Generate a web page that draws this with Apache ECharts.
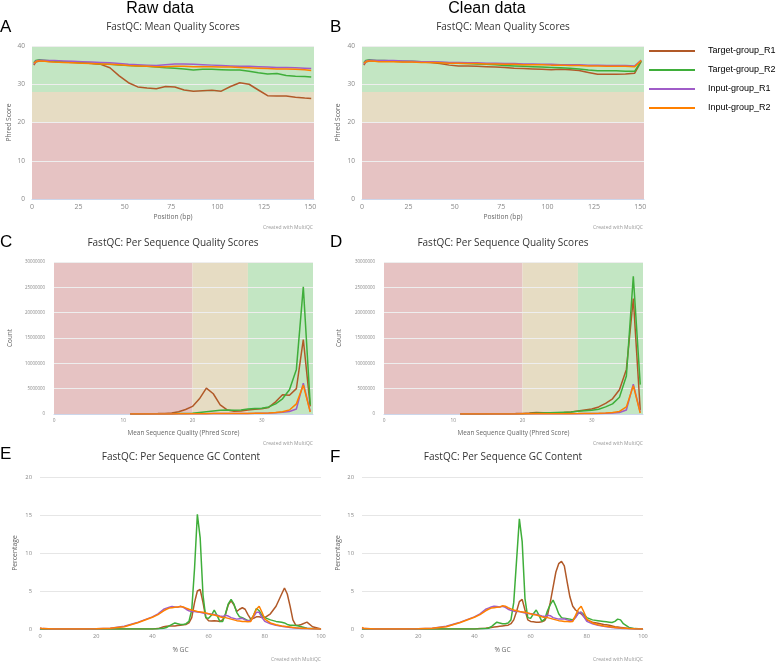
<!DOCTYPE html>
<html><head><meta charset="utf-8">
<script src="https://cdn.jsdelivr.net/npm/echarts/dist/echarts.min.js"></script>
<style>html,body{margin:0;padding:0;background:#fff}#c{width:778px;height:662px}</style>
</head><body><div id="c"></div>
<script>
// ---------- DATA ----------
const seriesNames = ['Target-group_R1','Target-group_R2','Input-group_R1','Input-group_R2'];
const panelTitles = ['FastQC: Mean Quality Scores','FastQC: Per Sequence Quality Scores','FastQC: Per Sequence GC Content'];
const columnTitles = ['Raw data','Clean data'];
const panelLetters = ['A','B','C','D','E','F'];

// Mean quality scores (position in bp)
const posX = [1,2,3,4,5,6,7,8,9,12,17,22,27,32,37,42,47,52,57,62,67,72,77,82,87,92,97,102,107,112,117,122,127,132,137,142,147,150.5];
const rawMeanT1 = [35.0,35.8,36.0,36.1,36.1,36.1,36.1,36.0,36.0,35.9,35.8,35.7,35.6,35.4,35.2,34.3,32.2,30.4,29.3,29.0,28.8,29.4,29.3,28.5,28.2,28.3,28.4,28.2,29.4,30.4,30.0,28.5,27.0,26.9,26.9,26.6,26.4,26.3];
const rawMeanT2 = [35.6,36.2,36.3,36.4,36.3,36.3,36.2,36.2,36.1,36.0,35.9,35.8,35.6,35.5,35.3,35.2,35.0,34.9,34.8,34.7,34.5,34.3,34.2,34.0,33.7,33.9,33.9,33.8,33.7,33.7,33.4,33.0,32.7,32.8,32.3,32.1,32.0,31.9];
const rawMeanI1 = [35.3,36.0,36.2,36.3,36.3,36.3,36.3,36.2,36.2,36.2,36.1,36.0,35.9,35.8,35.7,35.6,35.4,35.2,35.1,35.0,34.9,35.1,35.3,35.3,35.2,35.1,35.0,34.9,34.8,34.7,34.7,34.6,34.5,34.4,34.4,34.3,34.2,34.1];
const rawMeanI2 = [35.5,36.0,36.1,36.1,36.1,36.0,36.0,36.0,35.9,35.8,35.7,35.6,35.5,35.4,35.3,35.2,35.1,34.9,34.8,34.7,34.6,34.6,34.7,34.7,34.6,34.6,34.6,34.5,34.5,34.4,34.3,34.2,34.1,34.0,34.0,33.9,33.8,33.6];
const cleanMeanT1 = [35.0,35.8,36.0,36.1,36.1,36.1,36.1,36.0,36.0,36.0,36.0,35.9,35.9,35.8,35.7,35.4,35.0,34.8,34.8,34.7,34.6,34.5,34.4,34.2,34.1,34.0,33.9,33.8,33.9,33.8,33.6,33.1,32.6,32.6,32.6,32.7,32.9,36.0];
const cleanMeanT2 = [35.6,36.2,36.3,36.4,36.3,36.3,36.3,36.2,36.2,36.2,36.1,36.0,36.0,35.9,35.8,35.7,35.6,35.5,35.4,35.3,35.2,35.1,34.9,34.8,34.7,34.6,34.5,34.4,34.3,34.2,34.0,33.7,33.5,33.5,33.5,33.4,33.4,36.1];
const cleanMeanI1 = [35.3,36.0,36.2,36.3,36.3,36.3,36.3,36.2,36.2,36.2,36.2,36.1,36.0,35.9,35.9,35.8,35.7,35.7,35.6,35.6,35.5,35.5,35.4,35.4,35.3,35.3,35.2,35.2,35.1,35.1,35.1,35.0,35.0,34.9,34.9,34.9,34.8,36.3];
const cleanMeanI2 = [35.5,36.0,36.1,36.1,36.1,36.0,36.0,36.0,35.9,35.9,35.9,35.8,35.8,35.7,35.7,35.6,35.5,35.5,35.4,35.4,35.3,35.3,35.2,35.2,35.1,35.1,35.1,35.0,35.0,34.9,34.9,34.8,34.8,34.7,34.7,34.7,34.6,36.2];

// Per sequence quality scores (mean Phred score -> count)
const qualX = [11,12,13,14,15,16,17,18,19,20,21,22,23,24,25,26,27,28,29,30,31,32,33,34,35,36,37];
const rawQualT1 = [1e4,2e4,3e4,5e4,8e4,1.2e5,2e5,4.5e5,9e5,1.5e6,3.0e6,5.1e6,4.0e6,1.8e6,8e5,5.5e5,6e5,8e5,9.5e5,1.05e6,1.3e6,2.4e6,3.8e6,3.7e6,5.0e6,1.47e7,1.5e6];
const rawQualT2 = [1e4,1e4,2e4,3e4,4e4,5e4,6e4,8e4,1e5,1.5e5,3e5,4.5e5,6e5,7.5e5,8e5,7.5e5,8e5,1.0e6,1.1e6,1.15e6,1.4e6,2.0e6,3.0e6,4.8e6,8.8e6,2.51e7,1.8e6];
const rawQualI1 = [5e3,5e3,1e4,1e4,1.5e4,2e4,2e4,3e4,4e4,5e4,6e4,7e4,8e4,9e4,1e5,1e5,1.1e5,1.2e5,1.3e5,1.5e5,1.8e5,2.5e5,3.5e5,5e5,1.0e6,6.1e6,5e5];
const rawQualI2 = [5e3,5e3,1e4,1e4,1.5e4,2e4,2e4,3e4,4e4,5e4,6e4,7e4,8e4,9e4,1e5,1e5,1.1e5,1.2e5,1.4e5,1.6e5,2e5,3e5,4.5e5,8e5,2.0e6,5.7e6,4e5];
const cleanQualT1 = [1e4,1e4,2e4,2e4,3e4,4e4,5e4,6e4,8e4,1.2e5,2e5,3e5,2.5e5,2e5,2.5e5,3e5,4e5,6e5,8e5,1.0e6,1.4e6,2.1e6,3.0e6,4.8e6,8.8e6,2.28e7,8e5];
const cleanQualT2 = [1e4,1e4,1e4,2e4,2e4,3e4,3e4,4e4,5e4,7e4,1e5,1.5e5,2e5,2.5e5,3e5,3.5e5,4e5,5.5e5,6.5e5,7.5e5,9.5e5,1.4e6,2.0e6,3.3e6,7.5e6,2.72e7,5.8e6];
const cleanQualI1 = [5e3,5e3,5e3,1e4,1e4,1e4,1.5e4,2e4,2e4,3e4,3e4,4e4,4e4,5e4,5e4,6e4,6e4,7e4,8e4,9e4,1.1e5,1.4e5,2e5,3e5,8e5,5.9e6,3e5];
const cleanQualI2 = [5e3,5e3,5e3,1e4,1e4,1e4,1.5e4,2e4,2e4,3e4,3e4,4e4,4e4,5e4,5e4,6e4,7e4,8e4,1e5,1.2e5,1.5e5,2e5,3e5,5e5,1.4e6,5.6e6,2e5];

// Per sequence GC content (% GC -> percentage)
const gcX = [0,1,5,10,15,20,25,30,35,40, 42,44,45,46,47,48,49,50, 51,52,53,54,55,56,57,58,59,60, 61,62,63,64,65,66,67,68,69,70, 71,72,73,74,75,76,77,78,79,80, 82,84,86,87,88,89,90,91,92,93,95,97,100];
const rawGcT1 = [0,0,0,0,0,0,0,0,0,0, 0.05,0.3,0.35,0.4,0.4,0.4,0.45,0.5, 0.55,0.6,0.8,1.5,3.5,5.0,5.2,3.5,1.5,1.1, 1.05,1.1,1.05,1.0,1.2,1.9,3.2,3.7,3.2,2.3, 2.6,2.8,2.6,1.9,1.3,1.4,1.6,1.6,1.5,1.5, 2.0,3.0,4.6,5.4,4.6,3.0,1.2,0.5,0.5,0.6,0.9,0.3,0];
const rawGcT2 = [0,0,0,0,0,0,0,0,0,0, 0.02,0.1,0.2,0.4,0.6,0.8,0.7,0.6, 0.6,0.7,1.0,2.5,8.0,15.1,12.0,4.5,1.5,1.4, 1.8,2.5,1.8,1.0,1.0,2.0,3.3,3.9,3.3,2.2, 1.6,1.5,1.3,1.1,1.2,1.8,2.7,2.4,1.8,1.5, 1.2,1.0,0.9,0.8,0.6,0.5,0.5,0.45,0.4,0.3,0.1,0.05,0];
const rawGcI1 = [0.1,0.05,0,0,0,0.02,0.1,0.35,0.9,1.6, 2.0,2.6,2.75,2.85,2.95,2.9,2.85,3.0, 2.85,2.6,2.4,2.3,2.3,2.25,2.2,2.1,2.05,2.0, 1.95,1.9,1.8,1.7,1.65,1.8,1.7,1.5,1.4,1.3, 1.35,1.4,1.2,1.1,1.1,1.6,2.2,2.2,1.5,1.0, 0.7,0.5,0.35,0.3,0.25,0.2,0.15,0.12,0.1,0.08,0.05,0.02,0];
const rawGcI2 = [0.15,0.05,0,0,0,0.02,0.1,0.3,0.85,1.55, 1.9,2.4,2.6,2.75,2.8,2.85,2.9,2.95, 2.9,2.75,2.6,2.5,2.4,2.3,2.25,2.2,2.1,2.0, 1.9,1.85,1.75,1.6,1.5,1.5,1.4,1.3,1.2,1.1, 1.05,1.0,1.0,0.95,1.0,1.8,2.6,3.0,2.2,1.3, 0.8,0.55,0.4,0.35,0.3,0.25,0.2,0.15,0.12,0.1,0.05,0.02,0];
const cleanGcT1 = [0,0,0,0,0,0,0,0,0,0, 0.05,0.1,0.15,0.2,0.25,0.3,0.35,0.4, 0.45,0.5,0.7,1.2,2.3,3.6,3.9,2.5,1.2,1.0, 0.95,0.9,0.9,0.95,1.1,1.8,3.5,5.5,7.5,8.6, 8.9,8.3,6.2,4.2,3.0,2.5,2.2,2.0,1.6,1.2, 0.9,0.75,0.6,0.55,0.5,0.4,0.3,0.25,0.2,0.15,0.05,0.02,0];
const cleanGcT2 = [0,0,0,0,0,0,0,0,0,0, 0.02,0.05,0.1,0.3,0.6,0.9,0.8,0.7, 0.7,0.8,1.2,3.5,9.0,14.5,11.5,4.0,1.5,1.4, 2.0,2.5,1.8,1.0,1.3,2.4,3.2,3.8,3.0,2.0, 1.5,1.4,1.35,1.3,1.2,1.6,2.1,2.2,1.9,1.5, 1.2,1.1,1.0,0.95,0.9,0.85,1.0,1.3,1.2,0.7,0.2,0.05,0];
const cleanGcI1 = [0.1,0.05,0,0,0,0.02,0.1,0.35,0.9,1.6, 2.0,2.6,2.75,2.9,3.0,2.95,2.9,3.0, 2.85,2.6,2.45,2.35,2.3,2.3,2.2,2.1,2.05,2.0, 1.95,1.9,1.8,1.7,1.65,1.8,1.75,1.5,1.4,1.3, 1.3,1.35,1.2,1.1,1.1,1.5,2.1,2.2,1.6,1.0, 0.7,0.5,0.35,0.3,0.25,0.2,0.15,0.12,0.1,0.08,0.05,0.02,0];
const cleanGcI2 = [0.2,0.05,0,0,0,0.02,0.1,0.3,0.85,1.55, 1.9,2.4,2.6,2.75,2.8,2.85,2.9,3.05, 3.0,2.8,2.65,2.5,2.4,2.3,2.25,2.2,2.1,2.0, 1.9,1.85,1.75,1.6,1.5,1.5,1.4,1.3,1.2,1.1, 1.05,1.0,1.0,0.95,1.0,1.8,2.6,3.0,2.2,1.3, 0.8,0.55,0.4,0.35,0.3,0.25,0.2,0.15,0.12,0.1,0.05,0.02,0];

// ---------- STYLE / LAYOUT ----------
const lineColors = ['#b15928','#3fae3a','#a05cc8','#ff8000'];
const bandRed = '#e6c3c3', bandTan = '#e6dcc3', bandGreen = '#c3e6c3';
const F = "'Open Sans', 'DejaVu Sans', sans-serif";
const ARIAL = "'Liberation Sans', Arial, sans-serif";

const grids = [
  {left:32, top:46, width:282, height:153},
  {left:362, top:46, width:282, height:153},
  {left:54, top:262, width:259, height:152},
  {left:384, top:262, width:259, height:152},
  {left:40, top:477, width:281, height:152},
  {left:362, top:477, width:281, height:152}
];

function zip(xs, ys){ return xs.map((x,i)=>[x, ys[i]]); }

const xCfg = [
  {min:0,max:152,interval:25,name:'Position (bp)',gap:15,fs:7,nfs:6.7},
  {min:0,max:37.4,interval:10,name:'Mean Sequence Quality (Phred Score)',gap:16,fs:4.8,nfs:6.4},
  {min:0,max:100,interval:20,name:'% GC',gap:18,fs:5.6,nfs:6.6}
];
const yCfg = [
  {min:0,max:40,interval:10,name:'Phred Score',gap:[19,20],fs:6.5,nfs:6.7,m:7},
  {min:0,max:30000000,interval:5000000,name:'Count',gap:[41,42],fs:4.4,nfs:6.4,m:9},
  {min:0,max:20,interval:5,name:'Percentage',gap:[21,20],fs:5.8,nfs:6.8,m:8}
];

const xAxis = [], yAxis = [];
for (let i=0;i<6;i++){
  const r = Math.floor(i/2), c = xCfg[r], yc = yCfg[r];
  xAxis.push({
    type:'value', gridIndex:i, min:c.min, max:c.max, interval:c.interval,
    name:c.name, nameLocation:'middle', nameGap:c.gap,
    nameTextStyle:{fontFamily:F, fontSize:c.nfs, color:'#666'},
    axisLine:{show:true, lineStyle:{color:'#ccd6eb', width:1}},
    axisTick:{show:false},
    splitLine:{show:false},
    axisLabel:{fontFamily:F, fontSize:c.fs, color:'#888', margin:4,
      formatter:(v)=> (Math.abs(v % c.interval) < 1e-9 ? String(v) : '')}
  });
  yAxis.push({
    type:'value', gridIndex:i, min:yc.min, max:yc.max, interval:yc.interval,
    name:yc.name, nameLocation:'middle', nameGap:yc.gap[i%2], nameRotate:90,
    nameTextStyle:{fontFamily:F, fontSize:yc.nfs, color:'#666'},
    axisLine:{show:false}, axisTick:{show:false},
    splitLine:{show:true, lineStyle:{color: r===2 ? '#e6e6e6' : '#eeeeee', width:1}},
    axisLabel:{fontFamily:F, fontSize:yc.fs, color:'#888', margin:yc.m,
      formatter:(v)=> String(v)}
  });
}

const series = [];
function bandSeries(gi, areas){
  series.push({type:'line', xAxisIndex:gi, yAxisIndex:gi, data:[], z:-1, silent:true,
    markArea:{silent:true, z:-1, data:areas}});
}
const yBands = [
  [{yAxis:0, itemStyle:{color:bandRed}},{yAxis:20}],
  [{yAxis:20, itemStyle:{color:bandTan}},{yAxis:28}],
  [{yAxis:28, itemStyle:{color:bandGreen}},{yAxis:40}]
];
const xBands = [
  [{xAxis:0, itemStyle:{color:bandRed}},{xAxis:20}],
  [{xAxis:20, itemStyle:{color:bandTan}},{xAxis:28}],
  [{xAxis:28, itemStyle:{color:bandGreen}},{xAxis:37.4}]
];
bandSeries(0, yBands); bandSeries(1, yBands);
bandSeries(2, xBands); bandSeries(3, xBands);

function addLines(gi, xs, arrs){
  arrs.forEach((ys, k)=>{
    series.push({
      type:'line', name:seriesNames[k], xAxisIndex:gi, yAxisIndex:gi,
      data:zip(xs, ys), showSymbol:false, symbol:'none', smooth:false,
      color:lineColors[k], lineStyle:{width:1.5, color:lineColors[k]},
      z:2+k, silent:true, animation:false
    });
  });
}
addLines(0, posX, [rawMeanT1, rawMeanT2, rawMeanI1, rawMeanI2]);
addLines(1, posX, [cleanMeanT1, cleanMeanT2, cleanMeanI1, cleanMeanI2]);
addLines(2, qualX, [rawQualT1, rawQualT2, rawQualI1, rawQualI2]);
addLines(3, qualX, [cleanQualT1, cleanQualT2, cleanQualI1, cleanQualI2]);
addLines(4, gcX, [rawGcT1, rawGcT2, rawGcI1, rawGcI2]);
addLines(5, gcX, [cleanGcT1, cleanGcT2, cleanGcI1, cleanGcI2]);

// ---------- free text ----------
const graphic = [];
function txt(x, y, text, font, fill, align, va){
  graphic.push({type:'text', x, y, silent:true,
    style:{text, font, fill, align:align||'left', verticalAlign:va||'middle'}});
}
txt(160, 8.5, columnTitles[0], "16px " + ARIAL, '#000', 'center');
txt(487, 8.5, columnTitles[1], "16px " + ARIAL, '#000', 'center');
const letterPos = [[0,27],[330,27],[0,242],[330,242],[0,454],[330,457]];
letterPos.forEach((p,i)=> txt(p[0], p[1], panelLetters[i], "17px " + ARIAL, '#000', 'left'));
const subPos = [[173,27],[503,27],[173,243],[503,243],[181,457],[503,457]];
subPos.forEach((p,i)=> txt(p[0], p[1], panelTitles[Math.floor(i/2)], "10px " + F, '#333', 'center'));
const credPos = [[313,228],[643,228],[313,444],[643,444],[321,660],[643,660]];
credPos.forEach(p=> txt(p[0], p[1], 'Created with MultiQC', "5px " + F, '#999', 'right'));

const option = {
  animation:false,
  backgroundColor:'#ffffff',
  grid: grids.map(g=>Object.assign({containLabel:false}, g)),
  xAxis, yAxis, series, graphic,
  legend:{
    data:seriesNames, orient:'vertical', left:649, top:45, padding:0,
    icon:'rect', itemWidth:46, itemHeight:2, itemGap:7,
    textStyle:{fontFamily:ARIAL, fontSize:9, color:'#000', lineHeight:12, padding:[0,0,0,8], overflow:'none'},
    selectedMode:false
  }
};
const chart = echarts.init(document.getElementById('c'), null, {renderer:'canvas'});
chart.setOption(option);
</script></body></html>
